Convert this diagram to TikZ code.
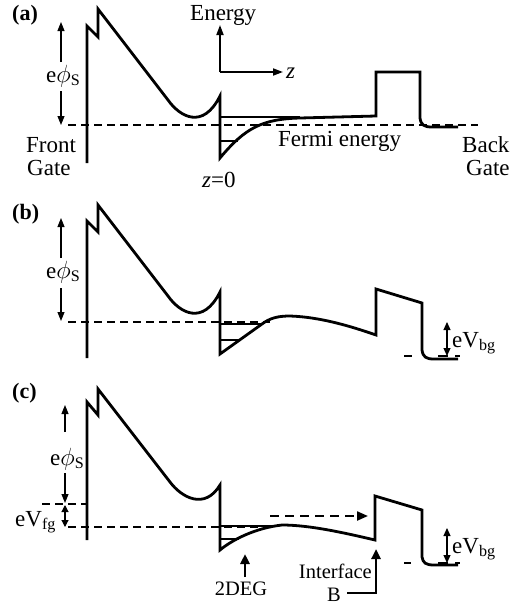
\documentclass[tikz,border=0pt]{standalone}
\usepackage{fontspec}
\setmainfont{Liberation Serif}
\usetikzlibrary{arrows.meta}
\begin{document}
\begin{tikzpicture}[x=1pt,y=-1pt,
  band/.style={line width=2.8pt},
  sub/.style={line width=2pt},
  fermi/.style={line width=1.4pt, dash pattern=on 8pt off 5pt},
  dimarrow/.style={line width=1.1pt, -{Triangle[length=9pt,width=7pt]}},
  dbl/.style={line width=1.1pt, {Triangle[length=8pt,width=7pt]}-{Triangle[length=8pt,width=7pt]}},
  axis/.style={line width=1.8pt, -{Triangle[length=10pt,width=7pt]}},
  thickarrow/.style={line width=2.6pt, -{Triangle[length=10pt,width=9pt]}},
  lbl/.style={font=\fontsize{23}{27}\selectfont, inner sep=0pt},
  small/.style={font=\fontsize{20.5}{24}\selectfont, inner sep=0pt},
  panel/.style={font=\fontsize{22}{26}\selectfont\bfseries, inner sep=0pt, anchor=base west}
]
\useasboundingbox (0,0) rectangle (517,605);

% ================= (a) =================
\node[panel] (pa) at (12,20) {(a)};
\draw[band] (87,163) -- (87,26) -- (98,37) -- (98,9) -- (168,100)
  .. controls (180,117) and (203,130) .. (220,96) -- (220,158)
  .. controls (245,128) and (262,119) .. (300,118) -- (376,116)
  -- (376,72) -- (420,72) -- (420,118)
  .. controls (421,125) and (424,127) .. (432,127) -- (458,127);
\draw[sub] (220,117) -- (300,117);
\draw[sub] (220,141) -- (238,141);
\draw[fermi] (68,125) -- (478,125);
% e phi_s
\draw[dimarrow] (61,62) -- (61,22);
\draw[dimarrow] (61,91) -- (61,125);
\node[lbl, anchor=base west] (phia) at (46,82) {e$\phi$\textsubscript{S}};
% axes
\coordinate (O) at (220,72);
\coordinate (Ey) at (220,25);
\coordinate (Ez) at (283,72);
\draw[axis] (O) -- (Ey);
\draw[axis] (O) -- (Ez);
\node[lbl, anchor=base west] (energy) at (190,20) {Energy};
\node[lbl, anchor=base west] (zlab) at (286,78) {\textit{z}};
\node[lbl, anchor=base west] (z0) at (202,187) {\textit{z}=0};
\node[lbl, anchor=base west] (fermi) at (278,146) {Fermi energy};
\node[lbl, anchor=base west] (front) at (26,152) {Front};
\node[lbl, anchor=base west] (fgate) at (27,175) {Gate};
\node[lbl, anchor=base west] (back) at (462,152) {Back};
\node[lbl, anchor=base west] (bgate) at (466,175) {Gate};

% ================= (b) =================
\node[panel] (pb) at (12,219) {(b)};
\draw[band] (87,358) -- (87,221) -- (98,232) -- (98,205) -- (168,296)
  .. controls (180,313) and (203,326) .. (220,292) -- (220,354)
  -- (262,324) .. controls (270,318) and (278,316) .. (290,316)
  .. controls (320,317) and (350,326) .. (376,335)
  -- (376,289) -- (422,303) -- (422,350)
  .. controls (423,357) and (426,359) .. (434,359) -- (458,359);
\draw[sub] (220,324) -- (263,324);
\draw[sub] (220,340) -- (240,340);
\draw[fermi] (68,322) -- (270,322);
\draw[line width=1.4pt] (404,356) -- (412,356);
\draw[line width=1.4pt, dash pattern=on 10pt off 7pt] (438,356) -- (460,356);
\draw[dimarrow] (61,258) -- (61,218);
\draw[dimarrow] (61,288) -- (61,321);
\node[lbl, anchor=base west] (phib) at (46,278) {e$\phi$\textsubscript{S}};
\draw[dbl] (447,322) -- (447,356);
\node[lbl, anchor=base west] (vbgb) at (452,347) {eV\textsubscript{bg}};

% ================= (c) =================
\node[panel] (pc) at (12,398) {(c)};
\draw[band] (87,540) -- (87,402) -- (98,415) -- (98,389) -- (170,482)
  .. controls (182,498) and (205,510) .. (220,485) -- (220,550)
  .. controls (232,540) and (255,528) .. (282,525)
  .. controls (310,525) and (345,533) .. (375,540)
  -- (375,496) -- (422,510) -- (422,557)
  .. controls (423,563) and (426,565) .. (434,565) -- (458,565);
\draw[sub] (220,526) -- (272,526);
\draw[sub] (220,539) -- (239,539);
\draw[fermi] (42,504) -- (87,504);
\draw[fermi] (68,527) -- (262,527);
\draw[line width=1.4pt] (404,563) -- (411,563);
\draw[line width=1.4pt, dash pattern=on 10pt off 7pt] (438,563) -- (460,563);
\draw[dimarrow] (65,432) -- (65,405);
\draw[dimarrow] (65,473) -- (65,503);
\node[lbl, anchor=base west] (phic) at (50,465) {e$\phi$\textsubscript{S}};
\draw[line width=1.1pt, {Triangle[length=7pt,width=7pt]}-{Triangle[length=7pt,width=7pt]}] (65,505) -- (65,527);
\node[lbl, anchor=base west] (vfg) at (15,526) {eV\textsubscript{fg}};
\draw[dbl] (447,528) -- (447,563);
\node[lbl, anchor=base west] (vbgc) at (452,553) {eV\textsubscript{bg}};
% tunnelling arrow
\coordinate (ts) at (270,516);
\coordinate (te) at (368,516);
\draw[line width=2.2pt, dash pattern=on 9pt off 6pt, -{Triangle[length=11pt,width=9pt]}] (ts) -- (te);
% 2DEG
\node[small, anchor=base] (deg) at (241,595) {2DEG};
\coordinate (degs) at (245,577);
\coordinate (degt) at (245,554);
\draw[thickarrow] (degs) -- (degt);
% Interface B
\node[small, anchor=base east] (intf) at (372,578) {Interface};
\node[small, anchor=base west] (ib) at (327,601) {B};
\coordinate (ibs) at (347,593);
\coordinate (ibc) at (376,593);
\coordinate (ibt) at (376,549);
\draw[line width=2.4pt, -{Triangle[length=10pt,width=9pt]}] (ibs) -- (ibc) -- (ibt);
\end{tikzpicture}
\end{document}
